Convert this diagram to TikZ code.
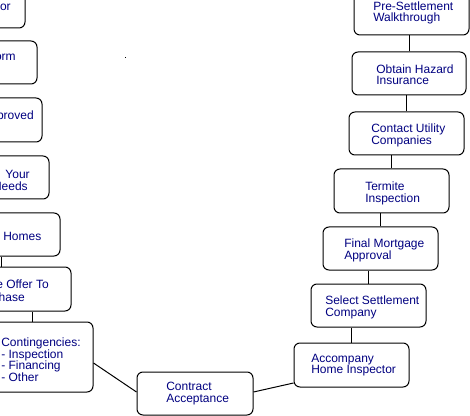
\documentclass[tikz,border=0pt]{standalone}
\usepackage{fontspec}
\setmainfont{Liberation Sans}
\usetikzlibrary{fit,calc}
\definecolor{navytxt}{RGB}{0,0,128}
\tikzset{
  boxst/.style={draw=black, line width=0.75pt, rounded corners=4.5pt, inner sep=0pt},
  txt/.style={font=\fontsize{9}{8.7}\selectfont, text=navytxt, align=left, inner sep=0pt, yshift=-1.2pt},
  conn/.style={draw=black, line width=0.75pt}
}
\begin{document}
\begin{tikzpicture}[x=0.75pt,y=-0.75pt]
\useasboundingbox (0,0) rectangle (470,416);
\clip (0,0) rectangle (470,416);
% right column boxes
\node[boxst, fit={(354,-9) (469,35)}] (R1) {};
\node[boxst, fit={(352,52) (466,95)}] (R2) {};
\node[boxst, fit={(349,112) (464,155)}] (R3) {};
\node[boxst, fit={(334,169) (449,213)}] (R4) {};
\node[boxst, fit={(323,227) (438,270)}] (R5) {};
\node[boxst, fit={(311,284) (426,327)}] (R6) {};
\node[boxst, fit={(294,343) (409,387)}] (R7) {};
% bottom
\node[boxst, fit={(137,372) (253,415)}] (C) {};
% left column boxes
\node[boxst, fit={(-90,-15) (25,28)}] (L1) {};
\node[boxst, fit={(-90,41) (37,84)}] (L2) {};
\node[boxst, fit={(-85,98) (42,142)}] (L3) {};
\node[boxst, fit={(-80,156) (49,199)}] (L4) {};
\node[boxst, fit={(-75,213) (60,256)}] (L5) {};
\node[boxst, fit={(-69,267) (71,311)}] (L6) {};
\node[boxst, fit={(-29,322) (93,392)}] (L7) {};
% texts right
\node[txt, anchor=west] (R1t) at (373,11.5) {Pre-Settlement\\Walkthrough};
\node[txt, anchor=west] (R2t) at (376,73) {Obtain Hazard\\Insurance};
\node[txt, anchor=west] (R3t) at (371,133.5) {Contact Utility\\Companies};
\node[txt, anchor=west] (R4t) at (365,191.5) {Termite\\Inspection};
\node[txt, anchor=west] (R5t) at (344,248.5) {Final Mortgage\\Approval};
\node[txt, anchor=west] (R6t) at (325,306) {Select Settlement\\Company};
\node[txt, anchor=west] (R7t) at (311,363.5) {Accompany\\Home Inspector};
\node[txt, anchor=west] (Ct) at (166,392) {Contract\\Acceptance};
% texts left
\node[txt, anchor=east] (L1t) at (11,6) {or};
\node[txt, anchor=east] (L2t) at (16,56) {orm};
\node[txt, anchor=east] (L3t) at (34,115) {proved};
\node[txt, anchor=east] (L4ta) at (30,173) {Your};
\node[txt, anchor=east] (L4tb) at (28,185) {Needs};
\node[txt, anchor=west] (L5t) at (3,235) {Homes};
\node[txt, anchor=east] (L6ta) at (49,283) {e Offer To};
\node[txt, anchor=east] (L6tb) at (25,296) {hase};
\node[txt, anchor=west] (L7t) at (1,358) {Contingencies:\\- Inspection\\- Financing\\- Other};
% connectors right column
\draw[conn] (R2.north) -- (R2.north |- R1.south);
\draw[conn] (R3.north) -- (R3.north |- R2.south);
\draw[conn] (R4.north) -- (R4.north |- R3.south);
\draw[conn] (R5.north) -- (R5.north |- R4.south);
\draw[conn] (R6.north) -- (R6.north |- R5.south);
\draw[conn] (R7.north) -- (R7.north |- R6.south);
% connectors left column
\draw[conn] (L2.north) -- (L2.north |- L1.south);
\draw[conn] (L3.north) -- (L3.north |- L2.south);
\draw[conn] (L4.north) -- (L4.north |- L3.south);
\draw[conn] (L5.north) -- (L5.north |- L4.south);
\draw[conn] (L6.north) -- (L6.north |- L5.south);
\draw[conn] (L7.north) -- (L7.north |- L6.south);
% diagonal connectors
\draw[conn] (L7.east |- 0,363) -- (C.west |- 0,392);
\draw[conn] (C.east |- 0,392) -- (R7.west |- 0,383);
% stray dot
\fill[black] (124.5,57.5) rectangle (125.5,58.5);
\end{tikzpicture}
\end{document}
